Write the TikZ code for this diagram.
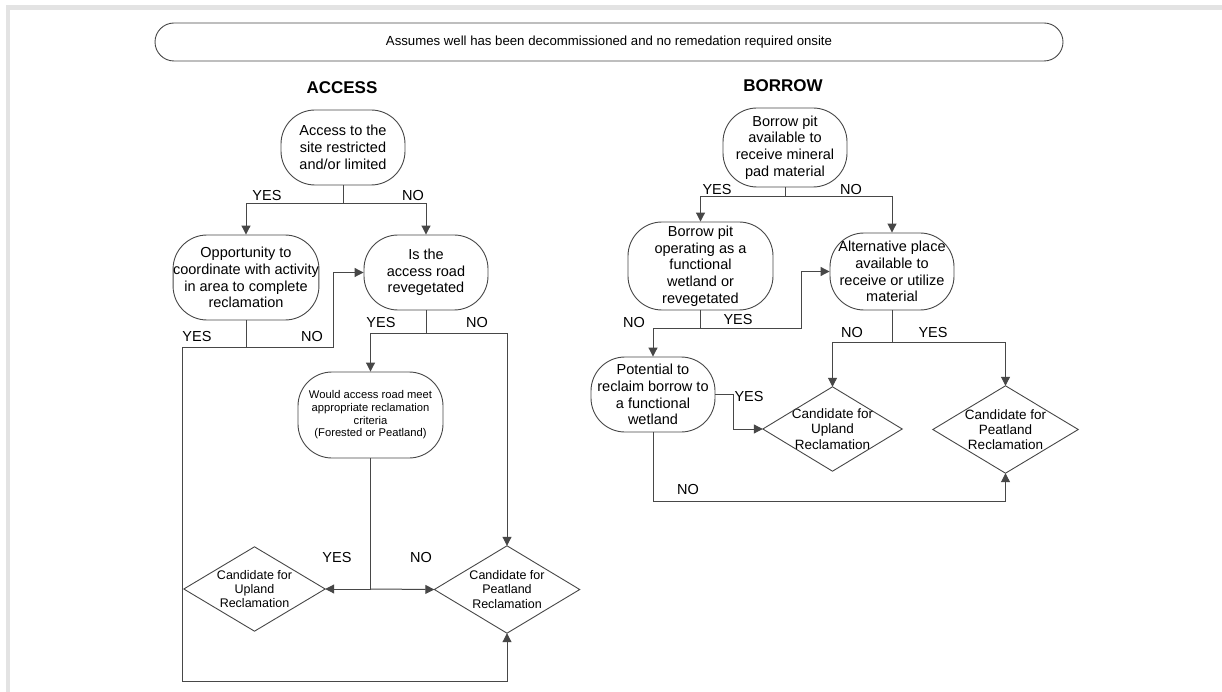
\documentclass[tikz,border=0pt]{standalone}
\usepackage{fontspec}
\setmainfont{Liberation Sans}
\usetikzlibrary{arrows.meta}
\tikzset{
  every picture/.style={x=1pt,y=-1pt},
  ln/.style={draw=black!72, line width=1pt},
  arr/.style={ln, -{Triangle[length=9pt,width=9pt]}},
  rbox/.style={draw=black!72, line width=0.9pt, rounded corners=34pt, inner sep=0pt, align=center,
    font=\fontsize{14.5}{16.7}\selectfont},
  dbox/.style={rectangle, draw=none, inner sep=0pt, align=center},
  dline/.style={draw=black!72, line width=0.9pt},
  lbl/.style={font=\fontsize{14.5}{16}\selectfont, inner sep=0pt},
  ttl/.style={font=\fontsize{17}{19}\selectfont\bfseries, inner sep=0pt},
}
\begin{document}
\begin{tikzpicture}
\useasboundingbox (0,0) rectangle (1222,692);
\fill[white] (0,0) rectangle (1222,692);
\draw[gray!22, line width=4.5pt] (8,700) -- (8,7.5) -- (1230,7.5);

% banner
\node[rbox, rounded corners=19pt, minimum width=908pt, minimum height=38pt,
  font=\fontsize{13.2}{15}\selectfont] (ban) at (609,42)
  {Assumes well has been decommissioned and no remedation required onsite};

% titles
\node[ttl] (tA) at (342,88) {ACCESS};
\node[ttl] (tB) at (783,86) {BORROW};

% ACCESS nodes
\node[rbox, minimum width=124pt, minimum height=75pt] (A1) at (343,147.5)
  {Access to the\\site restricted\\and/or limited};
\node[rbox, minimum width=137pt, minimum height=85pt] (A2) at (246,277.5)
  {Opportunity to\\coordinate with activity\\in area to complete\\reclamation};
\node[rbox, minimum width=124pt, minimum height=75pt] (A3) at (426,272.5)
  {Is the\\access road\\revegetated};
\node[rbox, minimum width=145pt, minimum height=86pt, font=\fontsize{11.2}{12.7}\selectfont] (A4) at (370.5,415)
  {Would access road meet\\appropriate reclamation\\criteria\\(Forested or Peatland)};
\node[dbox, minimum width=141pt, minimum height=84pt, font=\fontsize{12.5}{14.2}\selectfont] (A5) at (254.5,589)
  {Candidate for\\Upland\\Reclamation};
\node[dbox, minimum width=145pt, minimum height=87pt, font=\fontsize{12.5}{14.2}\selectfont] (A6) at (507,589.5)
  {Candidate for\\Peatland\\Reclamation};
\draw[dline] (A5.north) -- (A5.east) -- (A5.south) -- (A5.west) -- cycle;
\draw[dline] (A6.north) -- (A6.east) -- (A6.south) -- (A6.west) -- cycle;

% BORROW nodes
\node[rbox, minimum width=124pt, minimum height=79pt] (B1) at (785,147.5)
  {Borrow pit\\available to\\receive mineral\\pad material};
\node[rbox, minimum width=145pt, minimum height=88pt] (B2) at (700.5,266)
  {Borrow pit\\operating as a\\functional\\wetland or\\revegetated};
\node[rbox, minimum width=124pt, minimum height=77pt] (B3) at (892,271.5)
  {Alternative place\\available to\\receive or utilize\\material};
\node[rbox, minimum width=124pt, minimum height=75pt] (B4) at (653,394.5)
  {Potential to\\reclaim borrow to\\a functional\\wetland};
\node[dbox, minimum width=139pt, minimum height=84pt, font=\fontsize{13.5}{15.3}\selectfont] (B5) at (832.5,429)
  {Candidate for\\Upland\\Reclamation};
\node[dbox, minimum width=145pt, minimum height=87pt, font=\fontsize{13.5}{15.3}\selectfont] (B6) at (1005.5,429.5)
  {Candidate for\\Peatland\\Reclamation};
\draw[dline] (B5.north) -- (B5.east) -- (B5.south) -- (B5.west) -- cycle;
\draw[dline] (B6.north) -- (B6.east) -- (B6.south) -- (B6.west) -- cycle;

% junction coordinates
\coordinate (a1b) at (343,204);
\coordinate (a2b) at (246,347);
\coordinate (a3b) at (426,333);
\coordinate (a4b) at (370.5,589);
\coordinate (b1b) at (785,197);
\coordinate (b2b) at (700.5,328);
\coordinate (b3b) at (892,342);

% ACCESS connectors
\draw[ln] (A1.south) -- (a1b);
\draw[arr] (a1b) -| (A2.north);
\draw[arr] (a1b) -| (A3.north);
\draw[ln] (A2.south) -- (a2b);
\draw[arr] (a2b) -- (333,347) |- (A3.west);
\draw[arr] (a2b) -- (182,347) -- (182,681) -| (A6.south);
\draw[ln] (A3.south) -- (a3b);
\draw[arr] (a3b) -| (A4.north);
\draw[arr] (a3b) -| (A6.north);
\draw[ln] (A4.south) -- (a4b);
\draw[arr] (a4b) -- (A5.east);
\draw[arr] (a4b) -- (A6.west);

\node[lbl] (l1) at (267,196) {YES};
\node[lbl] (l2) at (413,196) {NO};
\node[lbl] (l3) at (197,337) {YES};
\node[lbl] (l4) at (312,337) {NO};
\node[lbl] (l5) at (381,323) {YES};
\node[lbl] (l6) at (477,323) {NO};
\node[lbl] (l7) at (337,558) {YES};
\node[lbl] (l8) at (421,558) {NO};

% BORROW connectors
\draw[ln] (B1.south) -- (b1b);
\draw[arr] (b1b) -| (B2.north);
\draw[arr] (b1b) -| (B3.north);
\draw[ln] (B2.south) -- (b2b);
\draw[arr] (b2b) -- (801,328) |- (B3.west);
\draw[arr] (b2b) -| (B4.north);
\draw[arr] (B4.east) -- ++(18,0) |- (B5.west);
\draw[arr] (B4.south) -- (653,501) -| (B6.south);
\draw[ln] (B3.south) -- (b3b);
\draw[arr] (b3b) -| (B5.north);
\draw[arr] (b3b) -| (B6.north);

\node[lbl] (m1) at (717,190) {YES};
\node[lbl] (m2) at (851,190) {NO};
\node[lbl] (m3) at (738,320) {YES};
\node[lbl] (m4) at (634,323) {NO};
\node[lbl] (m5) at (749,397) {YES};
\node[lbl] (m6) at (688,490) {NO};
\node[lbl] (m7) at (852,333) {NO};
\node[lbl] (m8) at (933,333) {YES};
\end{tikzpicture}
\end{document}
